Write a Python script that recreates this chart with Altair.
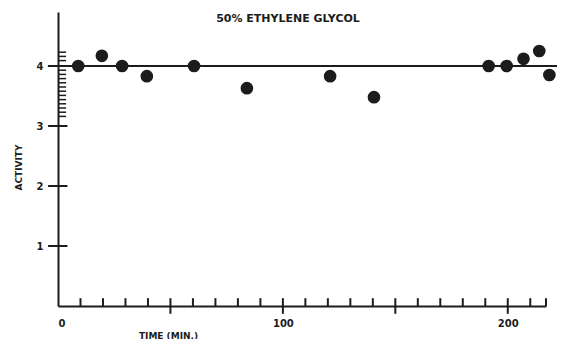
import altair as alt
import pandas as pd

# data
time_min = [9, 19.5, 28.5, 39.5, 60.5, 84, 121, 140.5, 191.5, 199.5, 207, 214, 218.5]
activity = [4.0, 4.17, 4.0, 3.83, 4.0, 3.63, 3.83, 3.48, 4.0, 4.0, 4.12, 4.25, 3.85]

level = 4.0
level_span = [-4.5, 222]

x_labels = [0, 100, 200]
x_major = [50, 100, 150, 200]
x_minor = [10, 20, 30, 40, 60, 70, 80, 90, 110, 120, 130, 140, 160, 170, 180, 190, 210, 217]
y_labels = [1, 2, 3, 4]
y_major = [1, 2, 3]
y_minor = [4.23, 4.16, 4.09, 3.93, 3.86, 3.79, 3.72, 3.65, 3.58, 3.51, 3.44, 3.37, 3.30, 3.23, 3.16]

INK = "#1c1c1c"
FONT = "DejaVu Sans"

xs = alt.Scale(domain=[0, 217], nice=False, zero=False)
ys = alt.Scale(domain=[0, 4.9], nice=False, zero=False)

base_axes = alt.Chart(pd.DataFrame({"t": [0], "a": [0]})).mark_point(opacity=0).encode(
    x=alt.X("t:Q", scale=xs, axis=alt.Axis(
        values=x_labels, format="d", ticks=False, grid=False, domainColor=INK, domainWidth=2,
        labelFont=FONT, labelFontWeight="bold", labelFontSize=10, labelColor=INK,
        labelPadding=12, title="TIME (MIN.)", titleFont=FONT, titleFontSize=9,
        titleFontWeight="bold", titleColor=INK, titleX=110, titleY=29,
        titleBaseline="middle", titleAlign="center")),
    y=alt.Y("a:Q", scale=ys, axis=alt.Axis(
        values=y_labels, format="d", ticks=False, grid=False, domainColor=INK, domainWidth=2,
        labelFont=FONT, labelFontWeight="bold", labelFontSize=10, labelColor=INK,
        labelPadding=15, title="ACTIVITY", titleFont=FONT, titleFontSize=9,
        titleFontWeight="bold", titleColor=INK, titleX=-40, titleY=155,
        titleBaseline="middle", titleAlign="center", titleAngle=270)),
)

xmaj = alt.Chart(pd.DataFrame({"t": x_major, "a": [-0.13] * 4, "a2": [0.13] * 4})).mark_rule(
    strokeWidth=2, color=INK).encode(
    x=alt.X("t:Q", scale=xs), y=alt.Y("a:Q", scale=ys), y2="a2:Q")
xmin = alt.Chart(pd.DataFrame({"t": x_minor, "a": [0] * len(x_minor), "a2": [0.13] * len(x_minor)})).mark_rule(
    strokeWidth=2, color=INK).encode(
    x=alt.X("t:Q", scale=xs), y=alt.Y("a:Q", scale=ys), y2="a2:Q")
ymaj = alt.Chart(pd.DataFrame({"t": [-4.4] * 3, "t2": [4.2] * 3, "a": y_major})).mark_rule(
    strokeWidth=2, color=INK).encode(
    x=alt.X("t:Q", scale=xs), x2="t2:Q", y=alt.Y("a:Q", scale=ys))
ymin = alt.Chart(pd.DataFrame({"t": [0] * len(y_minor), "t2": [3.6] * len(y_minor), "a": y_minor})).mark_rule(
    strokeWidth=1.5, color=INK).encode(
    x=alt.X("t:Q", scale=xs), x2="t2:Q", y=alt.Y("a:Q", scale=ys))

line = alt.Chart(pd.DataFrame({"t": [level_span[0]], "t2": [level_span[1]], "a": [level]})).mark_rule(
    color=INK, strokeWidth=2).encode(
    x=alt.X("t:Q", scale=xs), x2="t2:Q", y=alt.Y("a:Q", scale=ys))

pts = alt.Chart(pd.DataFrame({"t": time_min, "a": activity})).mark_circle(
    size=160, color=INK, opacity=1).encode(
    x=alt.X("t:Q", scale=xs), y=alt.Y("a:Q", scale=ys))

chart = alt.layer(base_axes, xmaj, xmin, ymaj, ymin, line, pts).properties(
    width=488, height=294,
    background="white",
    autosize=alt.AutoSizeParams(type="none"),
    padding={"left": 50, "top": 4, "right": 11, "bottom": 33},
    title=alt.TitleParams("50% ETHYLENE GLYCOL", font=FONT, fontSize=11, fontWeight="bold",
                          color=INK, anchor="middle", dx=-14, offset=0, dy=18, baseline="middle"),
).configure_view(stroke=None)

chart.save("out.html", embed_options={"renderer": "svg", "actions": False})
